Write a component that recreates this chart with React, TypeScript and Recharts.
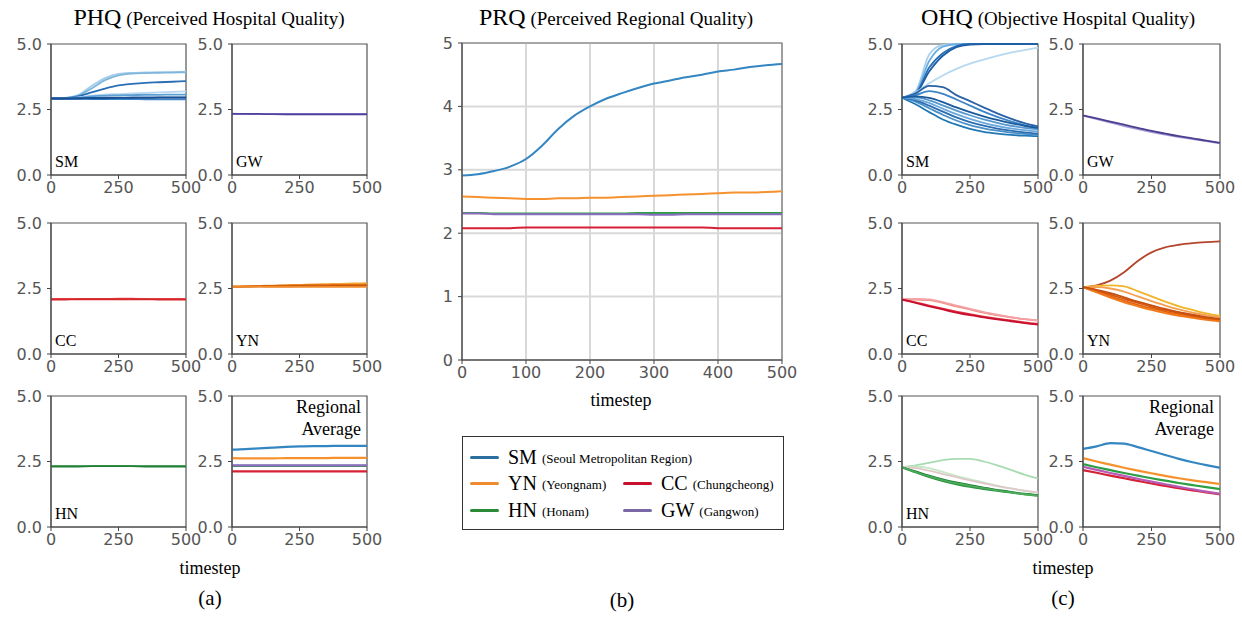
import React from "react";
import { LineChart, Line, XAxis, YAxis, CartesianGrid, ReferenceArea } from "recharts";

const T = [0, 50, 100, 150, 200, 250, 300, 350, 400, 450, 500];
const T_PRQ = [0, 25, 50, 75, 100, 125, 150, 175, 200, 225, 250, 275, 300, 325, 350, 375, 400, 425, 450, 475, 500];

const SM = "#3486c2";
const YN = "#f5922e";
const CC = "#d62035";
const HN = "#2e9e45";
const GW = "#8a6cc0";

// ---- PHQ (perceived hospital quality) ----
const phqSM = [
  [2.92, 2.94, 3.05, 3.4, 3.7, 3.86, 3.9, 3.92, 3.93, 3.93, 3.94],
  [2.92, 2.93, 3.02, 3.3, 3.62, 3.8, 3.87, 3.89, 3.9, 3.91, 3.92],
  [2.92, 2.93, 3.0, 3.15, 3.3, 3.42, 3.48, 3.52, 3.54, 3.56, 3.58],
  [2.92, 2.92, 2.96, 3.03, 3.07, 3.09, 3.11, 3.13, 3.15, 3.17, 3.19],
  [2.92, 2.92, 2.95, 3.0, 3.03, 3.04, 3.05, 3.06, 3.06, 3.07, 3.07],
  [2.92, 2.92, 2.93, 2.94, 2.95, 2.95, 2.96, 2.96, 2.96, 2.96, 2.96],
  [2.92, 2.91, 2.91, 2.9, 2.9, 2.9, 2.9, 2.89, 2.89, 2.89, 2.89],
  [2.92, 2.92, 2.92, 2.93, 2.93, 2.94, 2.94, 2.94, 2.95, 2.95, 2.95],
];
const phqSMColors = ["#a6cde8", "#7fb6dd", "#2a6fb5", "#b9d7ee", "#5b9fd3", "#1c5fa8", "#3f86c6", "#1a4f94"];

const phqGW = [
  [2.34, 2.33, 2.32, 2.32, 2.31, 2.31, 2.31, 2.31, 2.31, 2.31, 2.31],
  [2.33, 2.33, 2.33, 2.32, 2.32, 2.32, 2.32, 2.32, 2.32, 2.32, 2.32],
];
const phqGWColors = ["#9c8fd0", "#4f43a0"];

const phqCC = [
  [2.1, 2.1, 2.1, 2.1, 2.1, 2.11, 2.11, 2.1, 2.1, 2.1, 2.1],
  [2.08, 2.08, 2.09, 2.09, 2.09, 2.09, 2.09, 2.09, 2.08, 2.08, 2.08],
];
const phqCCColors = ["#e8505e", "#d62728"];

const phqYN = [
  [2.57, 2.58, 2.6, 2.61, 2.63, 2.64, 2.66, 2.67, 2.68, 2.69, 2.7],
  [2.57, 2.58, 2.59, 2.6, 2.61, 2.62, 2.63, 2.63, 2.64, 2.64, 2.65],
  [2.57, 2.57, 2.58, 2.58, 2.58, 2.59, 2.59, 2.59, 2.6, 2.6, 2.6],
  [2.57, 2.57, 2.57, 2.56, 2.56, 2.56, 2.56, 2.56, 2.56, 2.56, 2.56],
];
const phqYNColors = ["#f4a53a", "#e46a0e", "#c75a10", "#f08a2a"];

const phqHN = [
  [2.32, 2.32, 2.32, 2.32, 2.32, 2.32, 2.32, 2.32, 2.32, 2.32, 2.32],
  [2.31, 2.31, 2.31, 2.32, 2.32, 2.32, 2.32, 2.31, 2.31, 2.31, 2.31],
];
const phqHNColors = ["#4aa85a", "#1f7f35"];

const phqAvg = [
  [2.12, 2.12, 2.12, 2.12, 2.12, 2.12, 2.12, 2.12, 2.12, 2.12, 2.12],
  [2.33, 2.33, 2.33, 2.33, 2.33, 2.33, 2.33, 2.33, 2.33, 2.33, 2.33],
  [2.35, 2.35, 2.35, 2.35, 2.35, 2.35, 2.35, 2.35, 2.35, 2.35, 2.35],
  [2.63, 2.62, 2.62, 2.62, 2.63, 2.63, 2.63, 2.63, 2.64, 2.64, 2.64],
  [2.95, 2.97, 3.0, 3.03, 3.06, 3.08, 3.09, 3.09, 3.1, 3.1, 3.1],
];
const avgColors = [CC, HN, GW, YN, SM];

// ---- PRQ (perceived regional quality), sampled every 25 steps ----
const prqSM = [2.91, 2.93, 2.98, 3.05, 3.17, 3.38, 3.64, 3.85, 4.0, 4.12, 4.21, 4.29, 4.36, 4.41, 4.46, 4.5, 4.55, 4.58, 4.62, 4.65, 4.67];
const prqYN = [2.58, 2.57, 2.56, 2.55, 2.54, 2.54, 2.55, 2.55, 2.56, 2.56, 2.57, 2.58, 2.59, 2.6, 2.61, 2.62, 2.63, 2.64, 2.64, 2.65, 2.66];
const prqHN = [2.32, 2.32, 2.31, 2.31, 2.31, 2.31, 2.31, 2.31, 2.31, 2.31, 2.31, 2.32, 2.32, 2.32, 2.32, 2.32, 2.32, 2.32, 2.32, 2.32, 2.32];
const prqGW = [2.31, 2.31, 2.3, 2.3, 2.3, 2.3, 2.3, 2.3, 2.3, 2.3, 2.3, 2.3, 2.29, 2.29, 2.3, 2.3, 2.3, 2.3, 2.3, 2.3, 2.3];
const prqCC = [2.08, 2.08, 2.08, 2.08, 2.09, 2.09, 2.09, 2.09, 2.09, 2.09, 2.09, 2.09, 2.09, 2.09, 2.09, 2.09, 2.08, 2.08, 2.08, 2.08, 2.08];

// ---- OHQ (objective hospital quality) ----
const ohqSM = [
  [2.95, 3.2, 4.6, 4.97, 5.0, 5.0, 5.0, 5.0, 5.0, 5.0, 5.0],
  [2.95, 3.15, 4.35, 4.9, 4.99, 5.0, 5.0, 5.0, 5.0, 5.0, 5.0],
  [2.95, 3.1, 4.1, 4.65, 4.92, 5.0, 5.0, 5.0, 5.0, 5.0, 5.0],
  [2.95, 3.1, 3.95, 4.55, 4.88, 4.98, 5.0, 5.0, 5.0, 5.0, 5.0],
  [2.95, 3.15, 3.5, 3.8, 4.05, 4.25, 4.4, 4.55, 4.67, 4.77, 4.85],
  [2.95, 3.12, 3.4, 3.35, 3.05, 2.82, 2.58, 2.35, 2.15, 1.98, 1.86],
  [2.95, 3.05, 3.2, 3.1, 2.88, 2.65, 2.42, 2.22, 2.05, 1.9, 1.78],
  [2.95, 2.7, 2.4, 2.12, 1.92, 1.76, 1.65, 1.58, 1.53, 1.5, 1.48],
  [2.95, 2.8, 2.55, 2.3, 2.08, 1.9, 1.78, 1.69, 1.62, 1.57, 1.53],
  [2.95, 2.85, 2.65, 2.42, 2.2, 2.02, 1.88, 1.77, 1.69, 1.63, 1.58],
  [2.95, 2.9, 2.75, 2.53, 2.32, 2.14, 1.99, 1.87, 1.78, 1.71, 1.65],
  [2.95, 2.96, 2.85, 2.66, 2.46, 2.28, 2.12, 1.99, 1.88, 1.8, 1.74],
  [2.95, 3.0, 2.94, 2.78, 2.58, 2.4, 2.24, 2.1, 1.98, 1.88, 1.8],
];
const ohqSMColors = [
  "#a8d0ea", "#6aaee0", "#2a6fb5", "#1f5fa6", "#b6d9ef", "#2a62a8", "#3d85c6",
  "#1f77b4", "#4a90c8", "#2c6db0", "#6aa8dc", "#5598d0", "#1a5a9c",
];

const ohqGW = [
  [2.27, 2.13, 2.0, 1.87, 1.75, 1.64, 1.54, 1.45, 1.37, 1.29, 1.21],
  [2.27, 2.16, 2.04, 1.92, 1.8, 1.68, 1.58, 1.48, 1.4, 1.31, 1.23],
];
const ohqGWColors = ["#a99bd6", "#4b3f8f"];

const ohqCC = [
  [2.08, 2.08, 2.06, 1.95, 1.82, 1.7, 1.58, 1.48, 1.4, 1.33, 1.28],
  [2.08, 2.1, 2.08, 1.98, 1.85, 1.72, 1.6, 1.5, 1.41, 1.33, 1.27],
  [2.08, 1.97, 1.85, 1.73, 1.62, 1.52, 1.43, 1.35, 1.28, 1.21, 1.15],
  [2.08, 1.95, 1.82, 1.7, 1.58, 1.48, 1.4, 1.32, 1.25, 1.18, 1.12],
];
const ohqCCColors = ["#f08a6a", "#f4a0a8", "#e0303f", "#c8102e"];

const ohqYN = [
  [2.55, 2.62, 2.8, 3.12, 3.55, 3.88, 4.07, 4.17, 4.23, 4.27, 4.3],
  [2.55, 2.6, 2.62, 2.58, 2.4, 2.2, 2.0, 1.82, 1.68, 1.55, 1.45],
  [2.55, 2.55, 2.5, 2.38, 2.2, 2.02, 1.85, 1.7, 1.58, 1.48, 1.4],
  [2.55, 2.38, 2.2, 2.03, 1.88, 1.74, 1.62, 1.51, 1.42, 1.34, 1.27],
  [2.55, 2.42, 2.27, 2.1, 1.95, 1.8, 1.67, 1.56, 1.46, 1.38, 1.31],
  [2.55, 2.35, 2.15, 1.97, 1.82, 1.68, 1.56, 1.46, 1.38, 1.3, 1.24],
  [2.55, 2.45, 2.32, 2.16, 2.0, 1.86, 1.72, 1.6, 1.5, 1.41, 1.34],
];
const ohqYNColors = ["#b5452a", "#f0b429", "#f5a050", "#e8620c", "#d4580f", "#f07a1a", "#c75010"];

const ohqHN = [
  [2.28, 2.35, 2.45, 2.55, 2.6, 2.6, 2.5, 2.35, 2.18, 2.0, 1.85],
  [2.28, 2.3, 2.25, 2.1, 1.95, 1.82, 1.7, 1.58, 1.47, 1.38, 1.3],
  [2.28, 2.25, 2.15, 2.02, 1.9, 1.78, 1.67, 1.56, 1.47, 1.39, 1.32],
  [2.28, 2.12, 1.96, 1.82, 1.7, 1.6, 1.5, 1.42, 1.34, 1.27, 1.22],
  [2.28, 2.08, 1.9, 1.75, 1.63, 1.53, 1.45, 1.38, 1.31, 1.25, 1.2],
  [2.28, 2.1, 1.93, 1.79, 1.67, 1.57, 1.48, 1.4, 1.32, 1.25, 1.19],
];
const ohqHNColors = ["#a8dcb0", "#c5e8c8", "#e0c8c8", "#1b7a34", "#2a9040", "#4aab58"];

const ohqAvg = [
  [2.17, 2.07, 1.96, 1.86, 1.76, 1.66, 1.57, 1.48, 1.4, 1.32, 1.25],
  [2.4, 2.28, 2.17, 2.06, 1.96, 1.86, 1.77, 1.68, 1.6, 1.52, 1.45],
  [2.3, 2.18, 2.06, 1.95, 1.84, 1.73, 1.63, 1.53, 1.44, 1.35, 1.27],
  [2.63, 2.5, 2.38, 2.26, 2.15, 2.05, 1.95, 1.86, 1.78, 1.71, 1.64],
  [2.98, 3.08, 3.2, 3.18, 3.05, 2.9, 2.75, 2.6, 2.47, 2.36, 2.26],
];
const ohqAvgColors = [CC, HN, "#b55bb5", YN, SM];

function rows(series: number[][]) {
  return T.map((t, i) => {
    const r: Record<string, number> = { t };
    series.forEach((s, k) => (r["s" + k] = s[i]));
    return r;
  });
}

const SERIF = "'Liberation Serif', 'Times New Roman', serif";
const tickStyle = { fontSize: 16, fill: "#555", fontFamily: "'DejaVu Sans', sans-serif" };

function Panel({ x, y, w, h, series, colors, label, avg, lw = 1.8 }: any) {
  const data = rows(series);
  return (
    <div style={{ position: "absolute", left: x - 40, top: y - 6 }}>
      <LineChart width={w + 50} height={h + 32} data={data} margin={{ top: 6, right: 10, left: 0, bottom: 0 }}>
        <XAxis
          dataKey="t"
          type="number"
          domain={[0, 500]}
          ticks={[0, 250, 500]}
          interval={0}
          tick={tickStyle}
          tickSize={4}
          tickMargin={3}
          stroke="#444"
          height={26}
        />
        <YAxis
          type="number"
          domain={[0, 5]}
          ticks={[0, 2.5, 5]}
          interval={0}
          tickFormatter={(v: number) => v.toFixed(1)}
          tick={tickStyle}
          tickSize={4}
          tickMargin={5}
          stroke="#444"
          width={40}
        />
        <ReferenceArea x1={0} x2={500} y1={0} y2={5} fill="none" stroke="#555" strokeWidth={1.2} />
        {series.map((_: number[], k: number) => (
          <Line
            key={k}
            dataKey={"s" + k}
            type="monotone"
            stroke={colors[k]}
            strokeWidth={lw}
            dot={false}
            isAnimationActive={false}
          />
        ))}
      </LineChart>
      {label && (
        <div style={{ position: "absolute", left: 44, top: 6 + h - 21, fontSize: 16, lineHeight: "16px", fontFamily: SERIF, color: "#000" }}>
          {label}
        </div>
      )}
      {avg && (
        <div
          style={{
            position: "absolute",
            right: 16,
            top: 6,
            fontSize: 18,
            lineHeight: "22px",
            fontFamily: SERIF,
            textAlign: "right",
            color: "#000",
          }}
        >
          Regional
          <br />
          Average
        </div>
      )}
    </div>
  );
}

function Title({ cx, abbr, full }: { cx: number; abbr: string; full: string }) {
  return (
    <div style={{ position: "absolute", left: cx - 200, top: 3, width: 400, textAlign: "center", fontFamily: SERIF, lineHeight: "28px", color: "#000", whiteSpace: "nowrap" }}>
      <span style={{ fontSize: 24 }}>{abbr}</span>
      <span style={{ fontSize: 19 }}> ({full})</span>
    </div>
  );
}

function Centered({ cx, top, size, text }: { cx: number; top: number; size: number; text: string }) {
  return (
    <div style={{ position: "absolute", left: cx - 100, top, width: 200, textAlign: "center", fontFamily: SERIF, fontSize: size, lineHeight: `${size + 2}px`, color: "#000" }}>
      {text}
    </div>
  );
}

const legendItems = [
  { abbr: "SM", full: "Seoul Metropolitan Region", color: "#2a6f9e", x: 7, y: 20 },
  { abbr: "YN", full: "Yeongnam", color: "#f08a2e", x: 7, y: 46 },
  { abbr: "CC", full: "Chungcheong", color: "#c8102e", x: 160, y: 46 },
  { abbr: "HN", full: "Honam", color: "#2a8a35", x: 7, y: 73 },
  { abbr: "GW", full: "Gangwon", color: "#7a68a6", x: 160, y: 73 },
];

function PRQ() {
  const data = T_PRQ.map((t, i) => ({ t, SM: prqSM[i], YN: prqYN[i], HN: prqHN[i], GW: prqGW[i], CC: prqCC[i] }));
  return (
    <div style={{ position: "absolute", left: 462 - 40, top: 43 - 6 }}>
      <LineChart width={320 + 50} height={317 + 32} data={data} margin={{ top: 6, right: 10, left: 0, bottom: 0 }}>
        <CartesianGrid stroke="#d9d9d9" strokeWidth={2} />
        <XAxis dataKey="t" type="number" domain={[0, 500]} ticks={[0, 100, 200, 300, 400, 500]} interval={0} tick={tickStyle} tickSize={4} tickMargin={3} stroke="#444" height={26} />
        <YAxis type="number" domain={[0, 5]} ticks={[0, 1, 2, 3, 4, 5]} interval={0} tick={tickStyle} tickSize={4} tickMargin={5} stroke="#444" width={40} />
        <ReferenceArea x1={0} x2={500} y1={0} y2={5} fill="none" stroke="#777" strokeWidth={1.2} />
        <Line dataKey="CC" type="monotone" stroke={CC} strokeWidth={2} dot={false} isAnimationActive={false} />
        <Line dataKey="HN" type="monotone" stroke={HN} strokeWidth={2} dot={false} isAnimationActive={false} />
        <Line dataKey="GW" type="monotone" stroke={GW} strokeWidth={2} dot={false} isAnimationActive={false} />
        <Line dataKey="YN" type="monotone" stroke={YN} strokeWidth={2} dot={false} isAnimationActive={false} />
        <Line dataKey="SM" type="monotone" stroke={SM} strokeWidth={2} dot={false} isAnimationActive={false} />
      </LineChart>
    </div>
  );
}

export default function App() {
  const c1 = 51, c2 = 232, c3 = 902, c4 = 1083;
  const r1 = 44, r2 = 223, r3 = 396;
  return (
    <div style={{ position: "absolute", left: 0, top: 0, width: 1242, height: 618, background: "#fff", overflow: "hidden" }}>
      <style>{"svg.recharts-surface{overflow:visible}"}</style>
      <Title cx={209} abbr="PHQ" full="Perceived Hospital Quality" />
      <Title cx={616} abbr="PRQ" full="Perceived Regional Quality" />
      <Title cx={1058} abbr="OHQ" full="Objective Hospital Quality" />

      <Panel x={c1} y={r1} w={135} h={131} series={phqSM} colors={phqSMColors} label="SM" />
      <Panel x={c2} y={r1} w={135} h={131} series={phqGW} colors={phqGWColors} label="GW" />
      <Panel x={c1} y={r2} w={135} h={131} series={phqCC} colors={phqCCColors} label="CC" />
      <Panel x={c2} y={r2} w={135} h={131} series={phqYN} colors={phqYNColors} label="YN" />
      <Panel x={c1} y={r3} w={135} h={131} series={phqHN} colors={phqHNColors} label="HN" />
      <Panel x={c2} y={r3} w={135} h={131} series={phqAvg} colors={avgColors} avg lw={2.2} />

      <PRQ />

      <Panel x={c3} y={r1} w={136} h={131} series={ohqSM} colors={ohqSMColors} label="SM" />
      <Panel x={c4} y={r1} w={137} h={131} series={ohqGW} colors={ohqGWColors} label="GW" />
      <Panel x={c3} y={r2} w={136} h={131} series={ohqCC} colors={ohqCCColors} label="CC" />
      <Panel x={c4} y={r2} w={137} h={131} series={ohqYN} colors={ohqYNColors} label="YN" />
      <Panel x={c3} y={r3} w={136} h={131} series={ohqHN} colors={ohqHNColors} label="HN" />
      <Panel x={c4} y={r3} w={137} h={131} series={ohqAvg} colors={ohqAvgColors} avg lw={2.2} />

      <Centered cx={210} top={558} size={18} text="timestep" />
      <Centered cx={621} top={390} size={18} text="timestep" />
      <Centered cx={1063} top={558} size={18} text="timestep" />

      <div style={{ position: "absolute", left: 462, top: 436, width: 320, height: 92, border: "1px solid #333", fontFamily: SERIF }}>
        {legendItems.map((it) => (
          <div key={it.abbr} style={{ position: "absolute", left: it.x, top: it.y - 12, height: 24, display: "flex", alignItems: "center", whiteSpace: "nowrap" }}>
            <span style={{ display: "inline-block", width: 29, height: 3, borderRadius: 2, background: it.color, marginRight: 9 }} />
            <span style={{ fontSize: 20 }}>{it.abbr}</span>
            <span style={{ fontSize: 13, marginLeft: 5, marginTop: 4 }}>({it.full})</span>
          </div>
        ))}
      </div>

      <Centered cx={210} top={587} size={21} text="(a)" />
      <Centered cx={622} top={589} size={21} text="(b)" />
      <Centered cx={1063} top={587} size={21} text="(c)" />
    </div>
  );
}
